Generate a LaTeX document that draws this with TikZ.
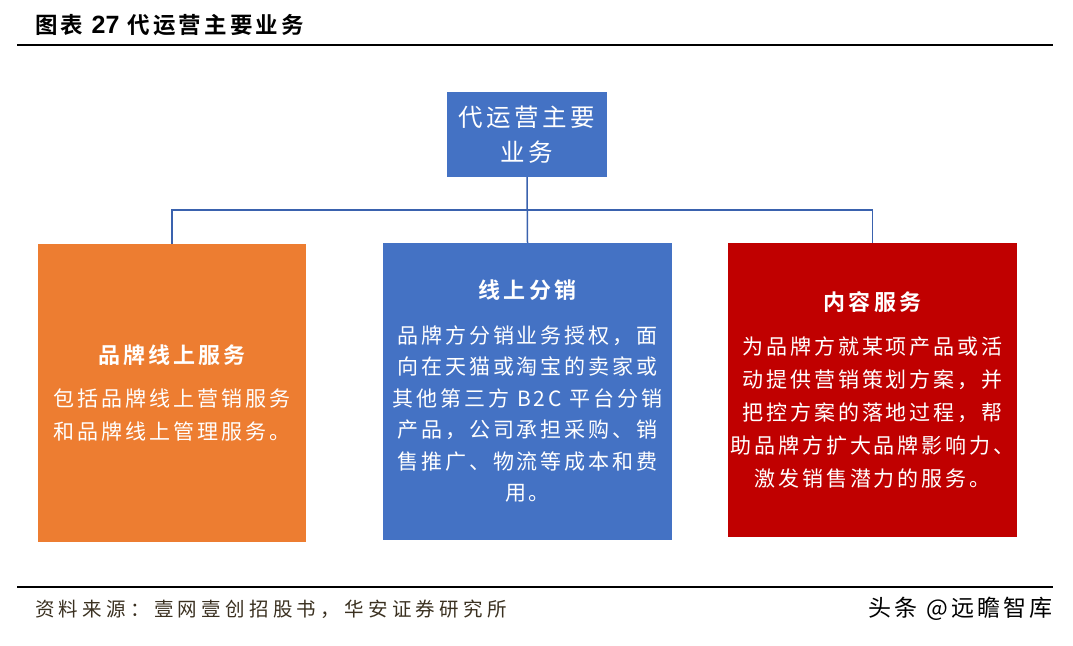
\documentclass[tikz,border=0pt]{standalone}
\usepackage{fontspec}
\setmainfont{Liberation Serif}
\newfontfamily\cjk[LetterSpace=14,BoldFont={Noto Sans CJK SC Bold}]{Noto Sans CJK SC}
\newfontfamily\cjksrc[LetterSpace=22]{Noto Sans CJK SC}
\newfontfamily\arialb{Liberation Sans Bold}
\usetikzlibrary{positioning}
\definecolor{boxblue}{HTML}{4472C4}
\definecolor{boxorange}{HTML}{ED7D31}
\definecolor{boxred}{HTML}{C00000}
\definecolor{linkblue}{HTML}{3A62AE}
\definecolor{srctext}{HTML}{3A3020}

\tikzset{
  bizbox/.style={rectangle, inner sep=0pt, text=white, align=center,
    font=\cjk\fontsize{21}{33}\selectfont},
  link/.style={draw=linkblue, line width=1.5pt},
}

\begin{document}
\begin{tikzpicture}[x=1pt,y=-1pt]
  \useasboundingbox (0,0) rectangle (1073,645);
  % heading and rules
  \node[anchor=west, inner sep=0pt, font=\cjk\bfseries\fontsize{22.5}{26}\selectfont] (title) at (35,25)
    {图表 {\arialb\fontsize{25}{26}\selectfont 27} 代运营主要业务};
  \draw[line width=2pt] (17,45) -- (1053,45);
  \draw[line width=2pt] (17,587) -- (1053,587);

  % boxes
  \node[bizbox, fill=boxblue, minimum width=160pt, minimum height=85pt,
    font=\cjk\fontsize{24.5}{35}\selectfont] (top) at (527,134.5) {代运营主要\\业务};
  \node[bizbox, fill=boxorange, minimum width=268pt, minimum height=298pt] (brand) at (172,393)
    {{\cjk\bfseries\fontsize{22}{33}\selectfont 品牌线上服务}\\[10pt]
     包括品牌线上营销服务\\和品牌线上管理服务。};
  \node[bizbox, fill=boxblue, minimum width=289pt, minimum height=297pt,
    font=\cjk\fontsize{21}{31.5}\selectfont] (dist) at (527.5,391.5)
    {{\cjk\bfseries\fontsize{22}{33}\selectfont 线上分销}\\[13pt]
     品牌方分销业务授权，面\\向在天猫或淘宝的卖家或\\其他第三方 B2C 平台分销\\产品，公司承担采购、销\\售推广、物流等成本和费\\用。};
  \node[bizbox, fill=boxred, minimum width=289pt, minimum height=294pt] (content) at (872.5,390)
    {{\cjk\bfseries\fontsize{22}{33}\selectfont 内容服务}\\[11pt]
     为品牌方就某项产品或活\\动提供营销策划方案，并\\把控方案的落地过程，帮\\助品牌方扩大品牌影响力、\\激发销售潜力的服务。};

  % connectors
  \coordinate (bus) at (527,210);
  \draw[link] (top.south) -- (dist.north);
  \draw[link] (brand.north) |- (bus) -| (content.north);

  % source and mark
  \node[anchor=west, inner sep=0pt, text=srctext, font=\cjksrc\fontsize{19.5}{22}\selectfont] (source) at (35,609)
    {资料来源：壹网壹创招股书，华安证券研究所};
  \node[anchor=east, inner sep=0pt, font=\cjk\fontsize{23}{26}\selectfont] (mark) at (1053,609)
    {头条 @远瞻智库};
\end{tikzpicture}
\end{document}
